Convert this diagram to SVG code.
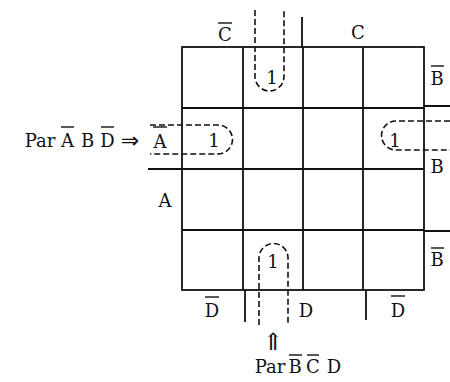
<svg xmlns="http://www.w3.org/2000/svg" width="450" height="382" viewBox="0 0 450 382">
<style>
text{font-family:"DejaVu Serif","Liberation Serif",serif;font-size:18px;fill:#111;text-anchor:middle}
.ar{font-family:"DejaVu Sans","Liberation Sans",sans-serif;font-size:22px}
.up{font-family:"DejaVu Serif",serif;font-size:24px}
.g{stroke:#111;stroke-width:1.8;fill:none}
.ov{stroke:#111;stroke-width:1.4}
.d{stroke:#111;stroke-width:1.6;fill:none;stroke-dasharray:6 3}
</style>
<rect width="450" height="382" fill="#fff"/>
<g id="grid" class="g">
<rect x="182" y="47" width="242" height="243"/>
<path d="M243,47V290M303,47V290M363,47V290M182,108H424M182,169H424M182,230H424"/>
<path d="M302,17V47M148,169H182M424,106H450M424,231H450M245,290V322M366,290V320"/>
</g>
<g id="labels">
<text x="225" y="41">C</text><line class="ov" x1="218" y1="23" x2="232" y2="23"/>
<text x="358" y="39">C</text>
<text x="437" y="85">B</text><line class="ov" x1="431" y1="66" x2="444" y2="66"/>
<text x="437" y="173">B</text>
<text x="437" y="266">B</text><line class="ov" x1="431" y1="248" x2="444" y2="248"/>
<text x="160" y="148">A</text><line class="ov" x1="153" y1="127" x2="167" y2="127"/>
<text x="165" y="207">A</text>
<text x="212" y="317">D</text><line class="ov" x1="205" y1="297" x2="219" y2="297"/>
<text x="306" y="317">D</text>
<text x="398" y="317">D</text><line class="ov" x1="391" y1="296" x2="405" y2="296"/>
</g>
<g id="ones">
<text x="272" y="84">1</text>
<text x="214" y="147">1</text>
<text x="395" y="147">1</text>
<text x="273" y="268">1</text>
</g>
<g id="connectors">
<path class="d" d="M255,10V76.5A14.5,14.5 0 0 0 284,76.5V10"/>
<path class="d" d="M150,125H218A14.5,14.5 0 0 1 218,154H150"/>
<path class="d" d="M450,121H396A14.5,14.5 0 0 0 396,150H450"/>
<path class="d" d="M259,325V258A14.5,14.5 0 0 1 288,258V325"/>
</g>
<g id="note-left">
<text x="40" y="147">Par</text>
<text x="67.5" y="147">A</text><line class="ov" x1="61" y1="127" x2="74" y2="127"/>
<text x="87.5" y="147">B</text>
<text x="107.5" y="147">D</text><line class="ov" x1="101" y1="127" x2="114" y2="127"/>
<text class="ar" x="130" y="148">⇒</text>
</g>
<g id="note-bottom">
<text class="up" x="273" y="350">⇑</text>
<text x="270" y="373">Par</text>
<text x="295" y="373">B</text><line class="ov" x1="289" y1="355" x2="302" y2="355"/>
<text x="313" y="373">C</text><line class="ov" x1="307" y1="355" x2="319" y2="355"/>
<text x="334" y="373">D</text>
</g>
</svg>
